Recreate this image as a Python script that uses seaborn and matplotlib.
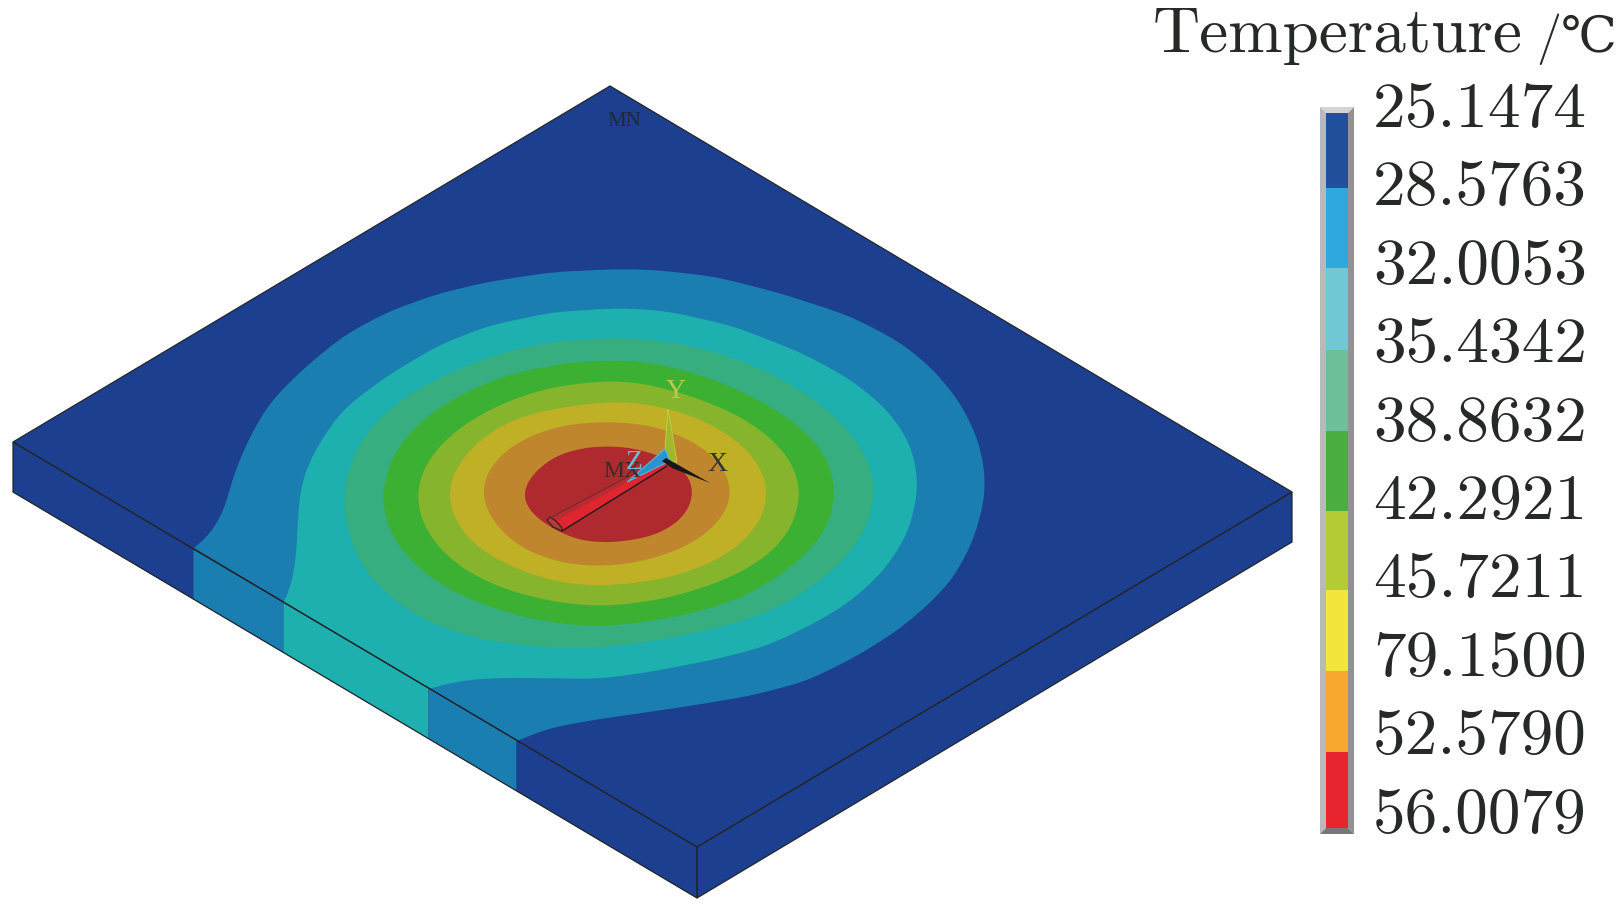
#temperature field on a plate, outlines in pixels
import numpy as np
import matplotlib
matplotlib.use('Agg')
import matplotlib.pyplot as plt
import seaborn as sns
from matplotlib.colors import ListedColormap
from matplotlib.patches import Polygon

legend_title = 'Temperature'
legend_unit = '/℃'
legend_labels = ['25.1474', '28.5763', '32.0053', '35.4342', '38.8632',
                 '42.2921', '45.7211', '79.1500', '52.5790', '56.0079']
legend_colors = ['#22509c', '#2ea8de', '#70c8d2', '#6cc09a', '#49ae3f',
                 '#b5cb35', '#f2e53c', '#f5a82d', '#e8252e']
legend_heights = [75, 80, 82, 81, 80, 79, 81, 81, 76]

plate_color = '#1c3f8f'
band_colors = ['#1a7fb0', '#1db0ae', '#36ae7f', '#3bb032', '#86b52d',
               '#c0b026', '#c0862e', '#ae2a2f']

top_face = [(610, 87), (1292, 493), (697, 848), (13, 443)]
right_face = [(697, 848), (1292, 493), (1292, 543), (697, 899)]
left_face = [(13, 443), (697, 848), (697, 899), (13, 493)]

# strips on the front left side
side_breaks = [13, 193, 283, 428, 516, 697]
side_colors = [plate_color, '#1a7fb0', '#1db0ae', '#1a7fb0', plate_color]

# band outlines, outermost first
band_1 = [(194, 549), (210, 537), (225, 510), (233, 477), (250, 437), (270, 403), (303, 370),
          (343, 337), (387, 313), (437, 295), (487, 283), (553, 273), (620, 270), (657, 271),
          (717, 278), (783, 295), (850, 317), (900, 343), (933, 370), (960, 403), (977, 437),
          (985, 470), (985, 500), (973, 543), (953, 580), (927, 607), (897, 632), (857, 657),
          (807, 682), (750, 697), (683, 708), (600, 720), (553, 728), (533, 735), (517, 742)]
band_2 = [(284, 603), (293, 583), (297, 547), (298, 513), (302, 480), (317, 447), (343, 410),
          (387, 377), (437, 347), (487, 327), (553, 313), (620, 309), (667, 312), (733, 327),
          (800, 353), (850, 380), (887, 410), (910, 443), (918, 477), (917, 500), (907, 537),
          (883, 573), (850, 603), (817, 623), (767, 647), (717, 660), (650, 673), (600, 680),
          (537, 679), (487, 679), (453, 683), (428, 690)]
band_3 = [(345, 500), (352, 467), (370, 430), (403, 400), (453, 373), (503, 353), (553, 342),
          (620, 338), (667, 342), (717, 353), (767, 373), (817, 403), (850, 437), (870, 467),
          (873, 493), (863, 533), (840, 563), (807, 590), (760, 617), (700, 633), (650, 643),
          (590, 650), (537, 648), (487, 642), (437, 627), (397, 603), (367, 573), (352, 537)]
band_4 = [(383, 500), (390, 467), (410, 433), (443, 407), (487, 383), (537, 368), (587, 362),
          (620, 360), (650, 363), (700, 375), (750, 397), (793, 423), (820, 450), (832, 473),
          (833, 500), (827, 527), (807, 553), (773, 580), (733, 603), (667, 620), (600, 629),
          (537, 622), (487, 607), (443, 587), (410, 560), (390, 530)]
band_5 = [(417, 500), (423, 473), (440, 447), (473, 420), (513, 400), (553, 387), (620, 380),
          (650, 385), (700, 400), (750, 423), (780, 450), (797, 473), (798, 503), (790, 530),
          (767, 557), (727, 580), (667, 600), (600, 609), (553, 603), (520, 595), (480, 580),
          (447, 557), (427, 530)]
band_6 = [(450, 497), (460, 467), (487, 437), (520, 417), (570, 407), (620, 401), (650, 405),
          (693, 417), (733, 440), (757, 467), (766, 493), (753, 530), (723, 557), (677, 577),
          (633, 585), (590, 588), (553, 583), (520, 570), (480, 550), (460, 523)]
band_7 = [(485, 497), (490, 473), (513, 447), (553, 428), (597, 422), (647, 425), (687, 440),
          (717, 463), (730, 495), (713, 527), (680, 550), (633, 565), (590, 568), (553, 562),
          (520, 547), (497, 523)]
band_8 = [(525, 493), (537, 473), (560, 455), (593, 447), (630, 448), (667, 460), (687, 477),
          (691, 497), (680, 520), (653, 537), (613, 544), (580, 542), (550, 527), (530, 510)]

# the smoothing pulls the narrow ends of the rings in, this puts them back
band_stretch = [1.0, 1.0, 1.018, 1.02, 1.025, 1.045, 1.05, 1.05]


def smooth_outline(pts, closed=True):
    # hand read points are lumpy, run a gaussian along the outline
    p = np.array(pts, dtype=float)
    if closed:
        p = np.vstack([p, p[:1]])
    s = np.r_[0, np.cumsum(np.hypot(*np.diff(p, axis=0).T))]
    t = np.arange(0, s[-1], 1.0)
    line = np.c_[np.interp(t, s, p[:, 0]), np.interp(t, s, p[:, 1])]
    sigma = min(0.03 * s[-1], 25) if closed else 14
    half = int(3 * sigma)
    kernel = np.exp(-0.5 * (np.arange(-half, half + 1) / sigma) ** 2)
    kernel /= kernel.sum()
    if closed:
        pad = np.vstack([line[-half:], line, line[:half]])
    else:
        pad = np.vstack([2 * line[0] - line[half:0:-1], line, 2 * line[-1] - line[-2:-half - 2:-1]])
    return np.c_[np.convolve(pad[:, 0], kernel, 'valid'), np.convolve(pad[:, 1], kernel, 'valid')]


sns.set_style('white')
plt.rcParams['font.family'] = ['cmr10', 'DejaVu Serif', 'Noto Sans CJK SC']

fig = plt.figure(figsize=(16.16, 9.12), dpi=100)
ax = fig.add_axes([0, 0, 1, 1])
ax.set_xlim(0, 1616)
ax.set_ylim(912, 0)
ax.axis('off')

# plate faces
top_patch = Polygon(top_face, closed=True, fc=plate_color, ec='none')
ax.add_patch(top_patch)
ax.add_patch(Polygon(right_face, closed=True, fc=plate_color, ec='none'))
ax.add_patch(Polygon(left_face, closed=True, fc=plate_color, ec='none'))
for k in range(len(side_colors)):
    xs = np.array(side_breaks[k:k + 2], dtype=float)
    y_top = np.interp(xs, [left_face[0][0], left_face[1][0]], [left_face[0][1], left_face[1][1]])
    y_bot = np.interp(xs, [left_face[3][0], left_face[2][0]], [left_face[3][1], left_face[2][1]])
    ax.fill_between(xs, y_top, y_bot, color=side_colors[k], lw=0)

bands = [band_1, band_2, band_3, band_4, band_5, band_6, band_7, band_8]
for k, (pts, col) in enumerate(zip(bands, band_colors)):
    outline = smooth_outline(pts, closed=k > 1)
    mid_x = outline[:, 0].mean()
    outline[:, 0] = mid_x + (outline[:, 0] - mid_x) * band_stretch[k]
    patch = Polygon(outline, closed=True, fc=col, ec='none')
    ax.add_patch(patch)
    patch.set_clip_path(top_patch)

# plate edges
edge_col = '#23262b'
for face in [top_face, right_face, left_face]:
    ax.add_patch(Polygon(face, closed=True, fc='none', ec=edge_col, lw=0.9))

# the beam, with the end cap
ax.add_patch(Polygon([(548, 520), (637, 473), (667, 463), (667, 467), (562, 532)],
                     closed=True, fc='#de2530', ec='none'))
ax.add_patch(Polygon([(548, 520), (637, 473), (640, 476), (552, 524)],
                     closed=True, fc='#b92a32', ec='none'))
ax.plot([548, 637], [520, 473], color='#6a2a2a', lw=0.7)
ax.plot([562, 667], [532, 467], color='#1c1c1c', lw=1.0)
ax.add_patch(Polygon([(547, 521), (550, 518), (556, 522), (562, 529), (562, 532), (553, 528)],
                     closed=True, fc='#b83a3a', ec='#222222', lw=0.8))

# triad
ax.add_patch(Polygon([(668, 410), (665, 450), (667, 462), (677, 463)],
                     closed=True, fc='#a0b82e', ec='#c8d040', lw=0.6))
ax.add_patch(Polygon([(665, 450), (670, 462), (627, 483)],
                     closed=True, fc='#2a94d0', ec='#58b4dc', lw=0.8))
ax.add_patch(Polygon([(662, 462), (666, 459), (710, 484), (672, 469)],
                     closed=True, fc='#15171a', ec='none'))

serif = ['Liberation Serif', 'DejaVu Serif']
ax.text(624, 122, 'MN', ha='center', va='center', fontsize=15, color='#20283a', family=serif)
ax.text(622, 472, 'MX', ha='center', va='center', fontsize=17, color='#3a2a2a', family=serif)
ax.text(676, 392, 'Y', ha='center', va='center', fontsize=20, color='#c4c84a', family=serif)
ax.text(634, 463, 'Z', ha='center', va='center', fontsize=20, color='#74b8dc', family=serif)
ax.text(717, 465, 'X', ha='center', va='center', fontsize=20, color='#33332f', family=serif)

# legend frame
ax.add_patch(Polygon([(1320, 108), (1354, 108), (1348, 114), (1326, 114)], fc='#d4d4d6', ec='none'))
ax.add_patch(Polygon([(1320, 108), (1326, 114), (1326, 829), (1320, 835)], fc='#b9b9bc', ec='none'))
ax.add_patch(Polygon([(1354, 108), (1348, 114), (1348, 829), (1354, 835)], fc='#929295', ec='none'))
ax.add_patch(Polygon([(1320, 835), (1326, 829), (1348, 829), (1354, 835)], fc='#77777a', ec='none'))

# legend colours, one heatmap row per pixel so the bands can differ in height
ax_leg = fig.add_axes([1326 / 1616, 1 - 829 / 912, 22 / 1616, 715 / 912])
levels = np.repeat(np.arange(len(legend_colors)), legend_heights).reshape(-1, 1)
sns.heatmap(levels, cmap=ListedColormap(legend_colors), cbar=False, ax=ax_leg,
            xticklabels=False, yticklabels=False)

text_col = '#262a26'
ax.text(1153, 52, legend_title, ha='left', va='baseline', fontsize=47, color=text_col)
ax.text(1536, 52, legend_unit, ha='left', va='baseline', fontsize=36, color=text_col)
for i, lab in enumerate(legend_labels):
    ax.text(1373, 127 + i * 78.4, lab, ha='left', va='baseline', fontsize=47, color=text_col)

fig.savefig('out.png', dpi=100)
